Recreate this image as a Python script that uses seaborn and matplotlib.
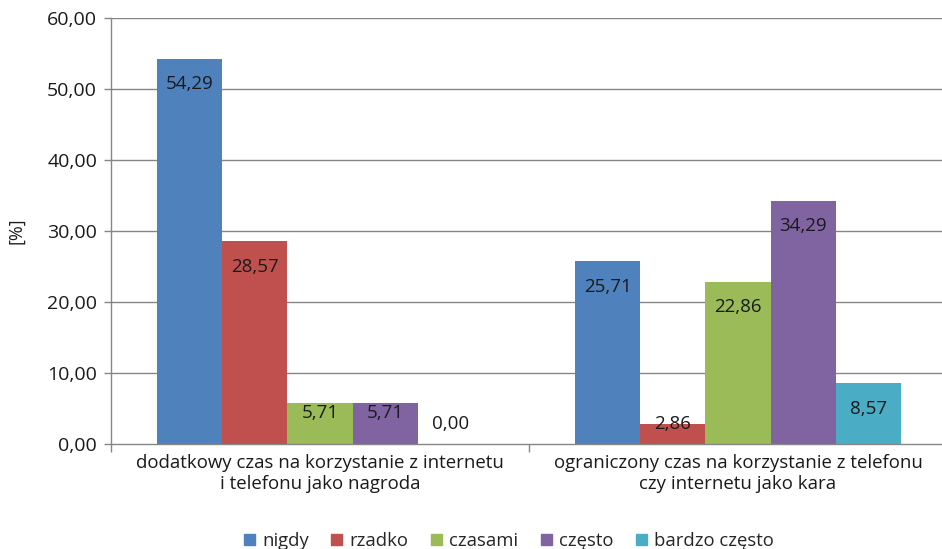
import matplotlib
matplotlib.use("Agg")
import matplotlib.pyplot as plt
import seaborn as sns
import pandas as pd
from matplotlib.ticker import FixedLocator, FuncFormatter

categories = [
    "dodatkowy czas na korzystanie z internetu\ni telefonu jako nagroda",
    "ograniczony czas na korzystanie z telefonu\nczy internetu jako kara",
]
answers = ["nigdy", "rzadko", "czasami", "często", "bardzo często"]
values_reward = [54.29, 28.57, 5.71, 5.71, 0.00]
values_penalty = [25.71, 2.86, 22.86, 34.29, 8.57]
colors = ["#4F81BD", "#C0504D", "#9BBB59", "#8064A2", "#4BACC6"]
y_ticks = [0, 10, 20, 30, 40, 50, 60]

rows = []
for cat, vals in zip(categories, [values_reward, values_penalty]):
    for ans, v in zip(answers, vals):
        rows.append({"kategoria": cat, "odpowiedź": ans, "procent": v})
df = pd.DataFrame(rows)

sns.set_theme(style="white")
plt.rcParams["font.family"] = ["Open Sans", "DejaVu Sans"]

fig = plt.figure(figsize=(9.42, 5.49), dpi=100)
ax = fig.add_axes([111 / 942, 1 - 444 / 549, 836 / 942, (444 - 18) / 549])

ax.set_axisbelow(True)
for t in y_ticks[1:]:
    ax.axhline(t, color="#868686", lw=1.0, zorder=0)

sns.barplot(
    data=df, x="kategoria", y="procent", hue="odpowiedź",
    hue_order=answers, palette=colors, width=0.778, gap=0,
    saturation=1, ax=ax, legend=True, zorder=2, linewidth=0,
)

# value labels inside the top of each bar
for container, ans in zip(ax.containers, answers):
    for bar in container:
        v = bar.get_height()
        cx = bar.get_x() + bar.get_width() / 2
        ly = v - 3.6 if v > 8 else max(v - 1.4, 2.75)
        ax.text(cx, ly, f"{v:.2f}".replace(".", ","), ha="center", va="center",
                fontsize=13.5, color="#1a1a1a", zorder=3)

ax.set_ylim(0, 60)
ax.set_xlim(-0.5, 1.5)
ax.yaxis.set_major_locator(FixedLocator(y_ticks))
ax.yaxis.set_major_formatter(FuncFormatter(lambda v, p: f"{v:.2f}".replace(".", ",")))
ax.tick_params(axis="y", labelsize=14, length=5, width=1, color="#868686",
               left=True, pad=5, labelcolor="#1a1a1a")

ax.set_xticks([0, 1])
ax.set_xticklabels(categories, fontsize=13.4, color="#1a1a1a", linespacing=1.2)
ax.tick_params(axis="x", length=0, pad=7)
ax.set_xticks([-0.5, 0.5, 1.5], minor=True)
ax.tick_params(axis="x", which="minor", length=6, width=1, color="#868686", bottom=True)

ax.set_xlabel("")
ax.set_ylabel("[%]", fontsize=13, color="#1a1a1a", labelpad=16)

for s in ["top", "right"]:
    ax.spines[s].set_visible(False)
for s in ["left", "bottom"]:
    ax.spines[s].set_color("#868686")
    ax.spines[s].set_linewidth(1)

ax.legend_.remove()
handles = [plt.Rectangle((0, 0), 1, 1, color=c) for c in colors]
fig.legend(handles, answers, loc="center", bbox_to_anchor=(509 / 942, 1 - 541 / 549),
           ncol=5, frameon=False, fontsize=13.3, handlelength=0.6, handleheight=0.6,
           handletextpad=0.4, columnspacing=1.2)

fig.savefig("out.png", dpi=100)
